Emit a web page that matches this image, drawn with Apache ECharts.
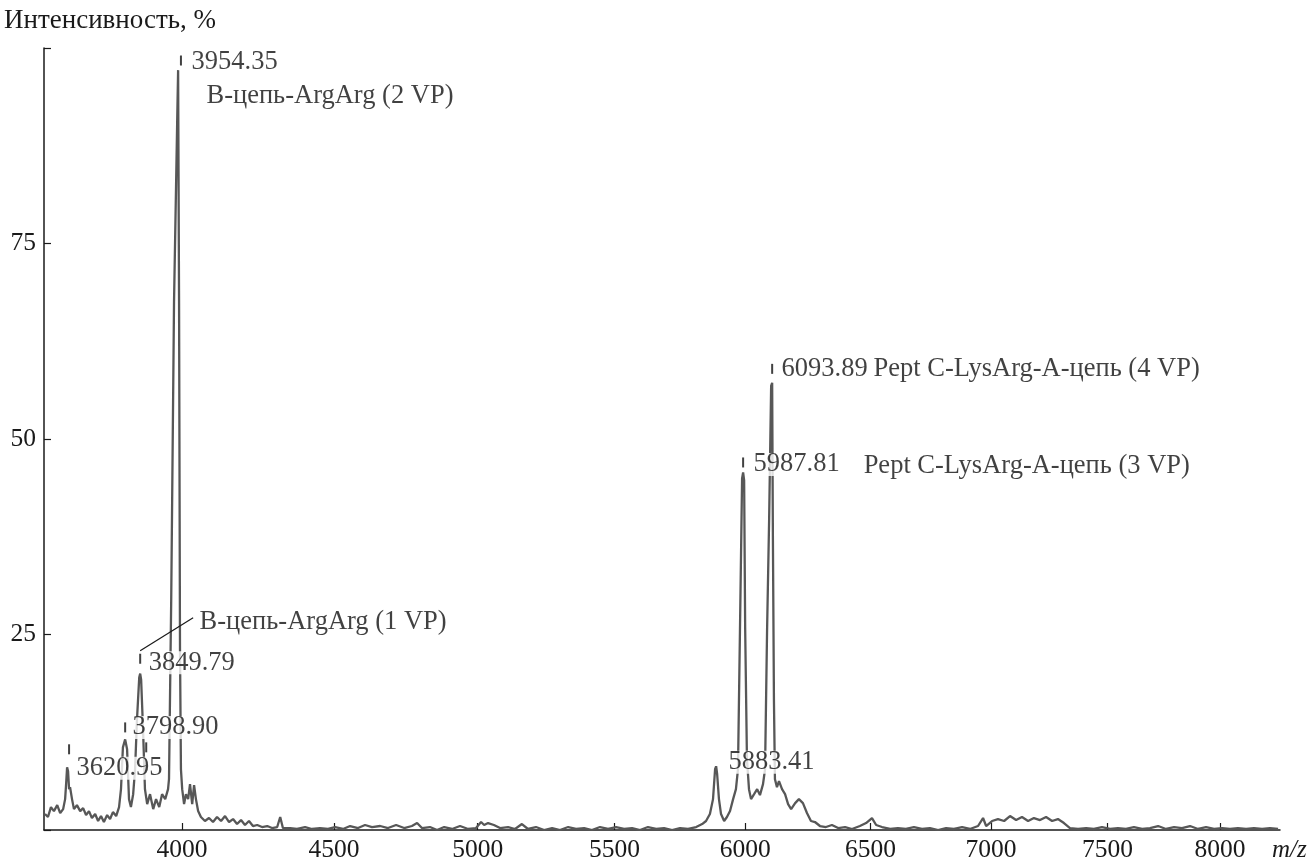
<!DOCTYPE html>
<html>
<head>
<meta charset="utf-8">
<script src="https://cdn.jsdelivr.net/npm/echarts@6/dist/echarts.min.js"></script>
<style>
html, body { margin: 0; padding: 0; background: #fff; }
#main { width: 1315px; height: 863px; }
</style>
</head>
<body>
<div id="main"></div>
<script>
// m/z and intensity (%)
var mz = [3575,3584,3593,3602,3612,3621,3630,3636,3639,3642,3645,3648,3651,3657,3663,3672,3682,3691,3700,3709,
  3718,3728,3737,3746,3755,3765,3774,3783,3793,3802,3808,3814,3821,3827,3833,3839,3846,3852,3858,3865,
  3868,3871,3877,3883,3890,3899,3909,3918,3928,3937,3947,3956,3959,3966,3975,3985,3988,3991,3994,3997,
  4001,4007,4013,4020,4026,4033,4039,4045,4052,4061,4074,4087,4100,4113,4126,4139,4152,4165,4178,4191,
  4204,4217,4230,4244,4260,4277,4293,4310,4320,4329,4353,4376,4403,4426,4453,4480,4504,4531,4555,4582,
  4606,4630,4658,4685,4713,4741,4768,4786,4803,4831,4856,4881,4909,4937,4966,4994,5012,5023,5037,5058,
  5080,5109,5134,5159,5181,5210,5240,5269,5298,5328,5357,5387,5416,5446,5476,5506,5536,5566,5596,5626,
  5657,5687,5718,5748,5779,5810,5833,5848,5863,5875,5883,5887,5891,5898,5906,5918,5929,5941,5953,5964,
  5972,5980,5988,5992,5996,6000,6007,6015,6023,6035,6047,6058,6070,6078,6086,6094,6102,6106,6109,6113,
  6117,6125,6133,6145,6157,6169,6181,6197,6212,6228,6244,6260,6276,6296,6320,6344,6369,6397,6425,6457,
  6482,6506,6523,6547,6580,6612,6645,6678,6711,6744,6778,6811,6844,6878,6911,6945,6966,6979,7004,7029,
  7055,7080,7106,7131,7157,7182,7208,7234,7260,7285,7311,7337,7372,7407,7441,7476,7511,7546,7581,7616,
  7652,7687,7723,7758,7794,7829,7865,7901,7937,7973,8009,8045,8081,8118,8154,8191,8227,8264];
var intensity = [2.04,1.66,2.93,2.42,3.18,2.17,2.67,3.95,5.86,8.02,7.51,5.22,5.48,3.95,2.67,3.18,2.42,2.80,1.91,2.42,
  1.53,2.04,1.15,1.78,1.02,1.91,1.40,2.29,1.78,2.93,5.22,10.57,11.59,10.32,3.95,2.93,4.58,7.77,14.14,19.49,
  20.0,19.23,12.86,5.22,3.31,4.58,2.67,3.95,2.93,4.58,3.95,5.22,6.50,29.42,67.63,90.55,97.17,67.63,23.05,7.77,
  5.22,3.31,4.58,3.95,5.86,3.31,5.73,3.95,2.42,1.66,1.15,1.53,1.02,1.66,1.15,1.78,1.02,1.40,0.76,1.27,
  0.64,1.15,0.51,0.64,0.38,0.51,0.25,0.38,1.66,0.25,0.25,0.13,0.38,0.13,0.25,0.13,0.38,0.13,0.51,0.25,
  0.64,0.38,0.51,0.25,0.64,0.25,0.51,0.89,0.25,0.38,0,0.38,0.13,0.51,0.13,0.25,1.02,0.64,0.89,0.64,
  0.25,0.38,0.13,0.76,0.13,0.38,0,0.25,0,0.38,0.13,0.25,0,0.38,0.13,0.38,0.13,0.25,0,0.38,
  0.13,0.25,0,0.25,0.13,0.38,0.76,1.15,2.04,3.95,7.77,8.15,7.13,3.95,2.04,1.15,1.66,2.42,3.95,5.22,
  7.77,26.24,44.96,45.72,44.70,25.85,9.04,5.22,3.95,4.58,5.22,4.46,5.86,7.77,25.60,39.61,56.80,57.18,37.06,16.68,
  6.50,5.48,6.24,5.22,4.58,3.31,2.67,3.44,3.95,3.44,2.17,1.15,1.02,0.51,0.38,0.64,0.25,0.38,0.13,0.51,
  0.89,1.53,0.64,0.38,0.13,0.25,0.13,0.38,0.13,0.25,0,0.25,0.13,0.38,0.13,0.51,1.53,0.51,1.15,1.40,
  1.15,1.78,1.27,1.66,1.15,1.53,1.27,1.66,1.15,1.40,0.89,0.25,0.13,0.25,0.13,0.38,0.13,0.25,0.13,0.38,
  0.13,0.25,0.51,0.13,0.38,0.25,0.51,0.13,0.38,0.13,0.25,0.13,0.25,0.13,0.25,0.13,0.25,0.13];

var tickMz = [4000, 4500, 5000, 5500, 6000, 6500, 7000, 7500, 8000];
var mzMin = 3572, mzMax = 8273;

// small dashed marks above labelled peaks
var markMz = [3997, 6106, 5992, 3868, 3821, 3648, 3887];
var markInt = [98.4, 58.97, 47.0, 21.9, 13.12, 10.32, 10.57];

// text annotations (left edge, middle)
var noteText = ['3954.35', 'B-цепь-ArgArg (2 VP)', '6093.89', 'Pept C-LysArg-A-цепь (4 VP)',
  '5987.81', 'Pept C-LysArg-A-цепь (3 VP)', '3849.79', 'B-цепь-ArgArg (1 VP)',
  '3798.90', '3620.95', '5883.41'];
var noteMz = [4026, 4074, 6137, 6506, 6027, 6466, 3890, 4052, 3839, 3666, 5929];
var noteInt = [98.19, 93.86, 58.97, 58.97, 46.74, 46.48, 21.40, 26.62, 13.12, 7.90, 8.66];

// leader line to "B-цепь-ArgArg (1 VP)"
var leaderMz = [3868, 4036];
var leaderInt = [22.92, 27.13];

var serif = "'Liberation Serif', 'Times New Roman', serif";
var sq = Math.sqrt;

var spectrum = mz.map(function (m, i) { return [sq(m), intensity[i]]; });
var marks = markMz.map(function (m, i) { return [sq(m), markInt[i]]; });
var notes = noteMz.map(function (m, i) { return [sq(m), noteInt[i]]; });
var leader = leaderMz.map(function (m, i) { return [sq(m), leaderInt[i]]; });

var chart = echarts.init(document.getElementById('main'));
var option = {
    backgroundColor: '#fff',
    animation: false,
    title: {
        text: 'Интенсивность, %',
        left: 4,
        top: 7,
        padding: 0,
        textStyle: { fontFamily: serif, fontWeight: 'normal', fontSize: 27, color: '#1a1a1a' }
    },
    grid: { left: 44, right: 35, top: 48, bottom: 32, containLabel: false },
    xAxis: {
        type: 'value',
        min: sq(mzMin),
        max: sq(mzMax),
        name: 'm/z',
        nameLocation: 'end',
        nameGap: -8,
        nameTextStyle: { fontFamily: serif, fontStyle: 'italic', fontSize: 25, color: '#1a1a1a',
            verticalAlign: 'top', padding: [8, 0, 0, 0] },
        axisLine: { show: true, onZero: false, lineStyle: { color: '#1a1a1a', width: 1.5 } },
        axisTick: { show: true, inside: true, length: 7, customValues: tickMz.map(sq),
            lineStyle: { color: '#1a1a1a', width: 1.2 } },
        axisLabel: { customValues: tickMz.map(sq), margin: 7,
            formatter: function (v) { return String(Math.round(v * v)); },
            fontFamily: serif, fontSize: 25.5, color: '#1a1a1a' },
        splitLine: { show: false }
    },
    yAxis: {
        type: 'value',
        min: 0,
        max: 100,
        interval: 25,
        axisLine: { show: true, lineStyle: { color: '#1a1a1a', width: 1.5 } },
        axisTick: { show: true, inside: true, length: 7, lineStyle: { color: '#1a1a1a', width: 1.2 } },
        axisLabel: { margin: 8, fontFamily: serif, fontSize: 25.5, color: '#1a1a1a',
            formatter: function (v) { return (v === 0 || v === 100) ? '' : String(v); } },
        splitLine: { show: false }
    },
    series: [
        {
            type: 'line',
            data: spectrum,
            symbol: 'none',
            z: 2,
            lineStyle: { color: '#575757', width: 2.3 }
        },
        {
            type: 'line',
            data: leader,
            symbol: 'none',
            z: 3,
            lineStyle: { color: '#1a1a1a', width: 1.2 }
        },
        {
            type: 'scatter',
            data: notes,
            symbolSize: 1,
            z: 4,
            itemStyle: { color: 'rgba(0,0,0,0)' },
            label: {
                show: true,
                position: 'right',
                distance: 0,
                formatter: function (p) { return noteText[p.dataIndex]; },
                fontFamily: serif,
                fontSize: 26.5,
                color: '#111',
                backgroundColor: '#fff',
                padding: [0, 1, 0, 1],
                lineHeight: 23
            }
        },
        {
            type: 'scatter',
            data: marks,
            symbol: 'rect',
            symbolSize: [2, 10],
            z: 5,
            itemStyle: { color: '#111' }
        }
    ]
};
chart.setOption(option);
</script>
</body>
</html>
